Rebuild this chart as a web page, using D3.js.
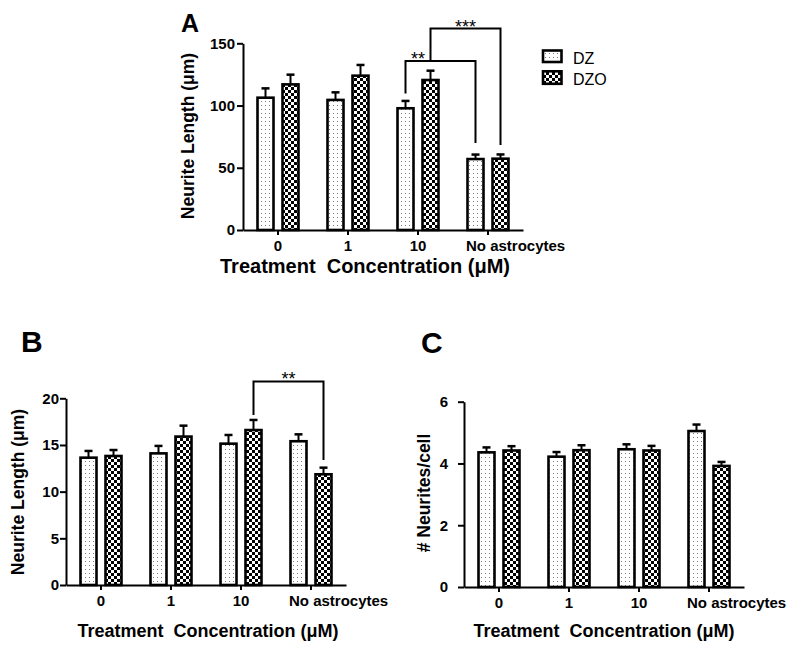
<!DOCTYPE html>
<html><head><meta charset="utf-8">
<script src="https://cdn.jsdelivr.net/npm/d3@7"></script>
<style>
html,body{margin:0;padding:0;background:#fff;}
text{font-family:"Liberation Sans",Arial,sans-serif;}
</style></head>
<body><div id="chart"></div>
<script>
// ---------- data ----------
const categories = ["0", "1", "10", "No astrocytes"];
const series = ["DZ", "DZO"];

const panelA_DZ      = [106.3, 104.5, 97.8, 57.0];
const panelA_DZ_err  = [7.5, 6.1, 5.9, 3.6];
const panelA_DZO     = [117.0, 124.0, 120.5, 57.3];
const panelA_DZO_err = [7.8, 8.6, 7.5, 3.4];
const panelA_ticks   = [0, 50, 100, 150];

const panelB_DZ      = [13.64, 14.1, 15.14, 15.4];
const panelB_DZ_err  = [0.72, 0.8, 0.93, 0.74];
const panelB_DZO     = [13.82, 15.9, 16.6, 11.86];
const panelB_DZO_err = [0.64, 1.17, 1.08, 0.71];
const panelB_ticks   = [0, 5, 10, 15, 20];

const panelC_DZ      = [4.36, 4.22, 4.46, 5.05];
const panelC_DZ_err  = [0.16, 0.15, 0.16, 0.21];
const panelC_DZO     = [4.42, 4.43, 4.42, 3.92];
const panelC_DZO_err = [0.14, 0.16, 0.15, 0.13];
const panelC_ticks   = [0, 2, 4, 6];

const xTitle = "Treatment  Concentration (\u03BCM)";

// ---------- page ----------
const W = 800, H = 654;
const svg = d3.select("#chart").append("svg").attr("width", W).attr("height", H)
  .style("display", "block");
const defs = svg.append("defs");

const pDot = defs.append("pattern").attr("id", "pDZ").attr("patternUnits", "userSpaceOnUse")
  .attr("width", 4).attr("height", 4);
pDot.append("rect").attr("width", 4).attr("height", 4).attr("fill", "#fff");
pDot.append("rect").attr("x", 1).attr("y", 1).attr("width", 1).attr("height", 1).attr("fill", "#7a7a7a");

const pChk = defs.append("pattern").attr("id", "pDZO").attr("patternUnits", "userSpaceOnUse")
  .attr("width", 6).attr("height", 6);
pChk.append("rect").attr("width", 6).attr("height", 6).attr("fill", "#fff");
pChk.append("rect").attr("x", 0).attr("y", 0).attr("width", 3).attr("height", 3).attr("fill", "#000");
pChk.append("rect").attr("x", 3).attr("y", 3).attr("width", 3).attr("height", 3).attr("fill", "#000");

const fills = { DZ: "url(#pDZ)", DZO: "url(#pDZO)" };

function drawPanel(cfg) {
  const g = svg.append("g");
  const x = d3.scaleBand().domain(categories).range([cfg.left, cfg.right]);
  const xs = d3.scaleBand().domain(series).range([-20.5, 20.5]).paddingInner(0.36);
  const y = d3.scaleLinear().domain([0, cfg.yMax]).range([cfg.yBottom, cfg.yTop]);
  const cx = (c, s) => x(c) + x.bandwidth() / 2 + xs(s) + xs.bandwidth() / 2;

  const rows = [];
  categories.forEach((c, i) => {
    rows.push({ c, s: "DZ", v: cfg.dz[i], e: cfg.dzErr[i] });
    rows.push({ c, s: "DZO", v: cfg.dzo[i], e: cfg.dzoErr[i] });
  });

  // error bars
  const eg = g.append("g").attr("stroke", "#000");
  eg.selectAll("line.v").data(rows).join("line").attr("class", "v")
    .attr("x1", d => cx(d.c, d.s)).attr("x2", d => cx(d.c, d.s))
    .attr("y1", d => y(d.v)).attr("y2", d => y(d.v + d.e)).attr("stroke-width", 2);
  eg.selectAll("line.cap").data(rows).join("line").attr("class", "cap")
    .attr("x1", d => cx(d.c, d.s) - 4).attr("x2", d => cx(d.c, d.s) + 4)
    .attr("y1", d => y(d.v + d.e)).attr("y2", d => y(d.v + d.e)).attr("stroke-width", 2.5);

  // bars
  g.append("g").selectAll("rect").data(rows).join("rect")
    .attr("x", d => x(d.c) + x.bandwidth() / 2 + xs(d.s))
    .attr("width", xs.bandwidth())
    .attr("y", d => y(d.v))
    .attr("height", d => y(0) - y(d.v))
    .attr("fill", d => fills[d.s])
    .attr("stroke", "#000").attr("stroke-width", 2.6);

  // axes
  const ya = g.append("g").attr("transform", `translate(${cfg.left},0)`)
    .call(d3.axisLeft(y).tickValues(cfg.ticks).tickFormat(d3.format("d"))
      .tickSize(6).tickSizeOuter(0).tickPadding(cfg.yPad));
  const xa = g.append("g").attr("transform", `translate(0,${cfg.yBottom})`)
    .call(d3.axisBottom(x).tickSize(5).tickSizeOuter(0).tickPadding(5));
  [ya, xa].forEach(a => {
    a.select(".domain").attr("stroke-width", 2);
    a.selectAll(".tick line").attr("stroke-width", 2);
    a.selectAll(".tick text").attr("font-size", 15).attr("font-weight", "bold")
      .attr("fill", "#000").style("font-family", '"Liberation Sans",Arial,sans-serif');
  });
  // last category label starts at the left edge of its first bar
  xa.selectAll(".tick text").filter(d => d === categories[categories.length - 1])
    .attr("text-anchor", "start").attr("x", xs("DZ") - 1.5);

  // labels
  g.append("text").attr("x", cfg.letterX).attr("y", cfg.letterY)
    .attr("font-size", cfg.letterSize).attr("font-weight", "bold").text(cfg.letter);
  g.append("text").attr("transform", `translate(${cfg.ylabX},${cfg.ylabY}) rotate(-90)`)
    .attr("text-anchor", "middle").attr("dy", "0.35em")
    .attr("font-size", 17.5).attr("font-weight", "bold").text(cfg.ylabel);
  g.append("text").attr("x", (cfg.left + cfg.right) / 2 + cfg.xTitleShift).attr("y", cfg.xTitleY)
    .attr("text-anchor", "middle").attr("font-size", cfg.xTitleSize).attr("font-weight", "bold")
    .style("white-space", "pre").text(xTitle);

  // significance brackets
  (cfg.brackets || []).forEach(b => {
    const xl = cx(b.from[0], b.from[1]), xr = cx(b.to[0], b.to[1]);
    g.append("path").attr("fill", "none").attr("stroke", "#000").attr("stroke-width", 2)
      .attr("d", `M${xl},${y(b.leftEnd)}V${y(b.level)}H${xr}V${y(b.rightEnd)}`);
    const lx = (cx(b.labelSpan[0][0], b.labelSpan[0][1]) + cx(b.labelSpan[1][0], b.labelSpan[1][1])) / 2;
    g.append("text").attr("x", lx).attr("y", y(b.level) + 4).attr("text-anchor", "middle")
      .attr("font-size", 18).text(b.label);
  });
}

drawPanel({
  left: 243, right: 523, yBottom: 230, yTop: 43.3, yMax: 150, ticks: panelA_ticks, yPad: 2,
  dz: panelA_DZ, dzErr: panelA_DZ_err, dzo: panelA_DZO, dzoErr: panelA_DZO_err,
  letter: "A", letterX: 181, letterY: 32, letterSize: 25,
  ylabel: "Neurite Length (\u03BCm)", ylabX: 188, ylabY: 136,
  xTitleY: 273, xTitleSize: 20, xTitleShift: -18,
  brackets: [
    { from: ["10", "DZ"], to: ["No astrocytes", "DZ"], level: 135.8, leftEnd: 109.6, rightEnd: 69.8,
      label: "**", labelSpan: [["10", "DZ"], ["10", "DZO"]] },
    { from: ["10", "DZO"], to: ["No astrocytes", "DZO"], level: 161.8, leftEnd: 135.8, rightEnd: 68.2,
      label: "***", labelSpan: [["10", "DZO"], ["No astrocytes", "DZO"]] }
  ]
});

drawPanel({
  left: 66, right: 346, yBottom: 585, yTop: 398.3, yMax: 20, ticks: panelB_ticks, yPad: 1,
  dz: panelB_DZ, dzErr: panelB_DZ_err, dzo: panelB_DZO, dzoErr: panelB_DZO_err,
  letter: "B", letterX: 21, letterY: 352, letterSize: 30,
  ylabel: "Neurite Length (\u03BCm)", ylabX: 17.5, ylabY: 492,
  xTitleY: 637, xTitleSize: 18, xTitleShift: 2,
  brackets: [
    { from: ["10", "DZO"], to: ["No astrocytes", "DZO"], level: 21.8, leftEnd: 18.2, rightEnd: 13.4,
      label: "**", labelSpan: [["10", "DZO"], ["No astrocytes", "DZO"]] }
  ]
});

drawPanel({
  left: 464, right: 744, yBottom: 587, yTop: 401.7, yMax: 6, ticks: panelC_ticks, yPad: 10,
  dz: panelC_DZ, dzErr: panelC_DZ_err, dzo: panelC_DZO, dzoErr: panelC_DZO_err,
  letter: "C", letterX: 421, letterY: 353, letterSize: 30,
  ylabel: "# Neurites/cell", ylabX: 423.5, ylabY: 493,
  xTitleY: 637, xTitleSize: 18, xTitleShift: 0,
  brackets: []
});

// legend
const leg = svg.append("g");
series.forEach((s, i) => {
  leg.append("rect").attr("x", 543).attr("y", [50.5, 71.3][i]).attr("width", 18.5).attr("height", [11.5, 12.5][i])
    .attr("fill", fills[s]).attr("stroke", "#000").attr("stroke-width", 2.6);
  leg.append("text").attr("x", 573).attr("y", [64, 85][i]).attr("font-size", 16).text(s);
});
</script></body></html>
